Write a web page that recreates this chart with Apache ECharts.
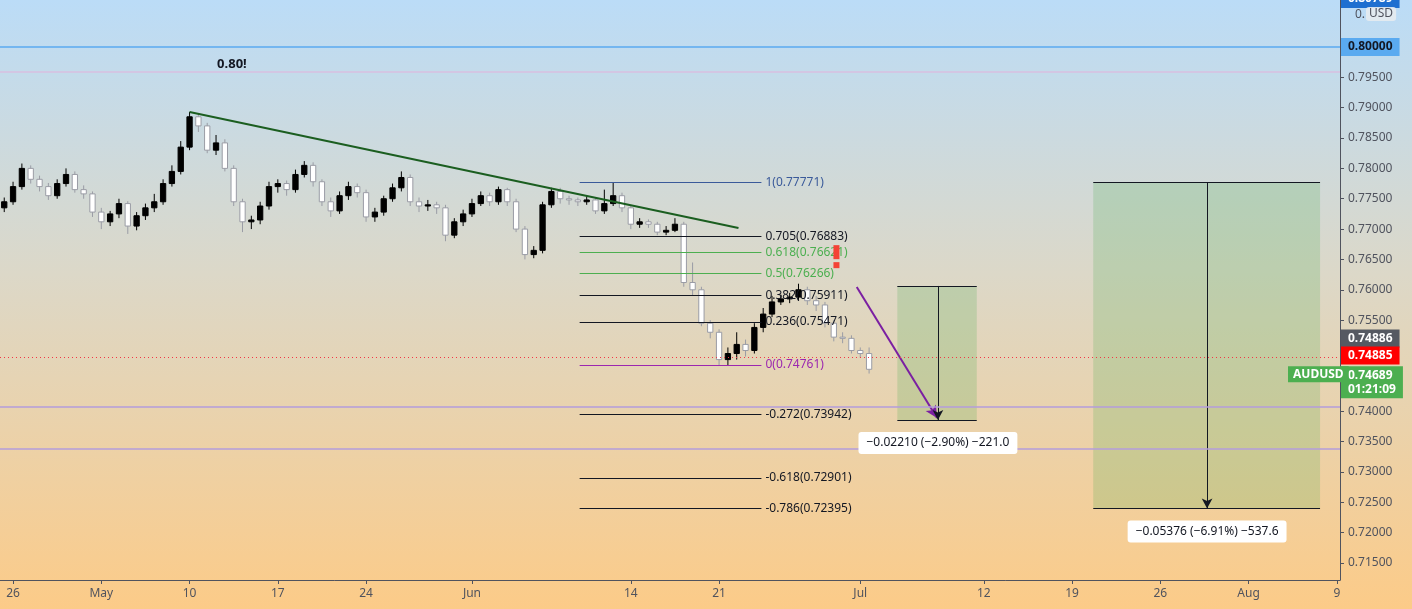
<!DOCTYPE html>
<html><head><meta charset="utf-8">
<script src="https://cdn.jsdelivr.net/npm/echarts@6/dist/echarts.min.js"></script>
<style>html,body{margin:0;padding:0}#c{width:1412px;height:609px}</style>
</head><body><div id="c"></div>
<script>
// trading-day index of first candle, half-day steps
const startDay = -0.5, step = 0.5;
const firstOpen = 0.7735;
const closes = [0.7745,0.7770,0.7800,0.7782,0.7770,0.7755,0.7775,0.7790,0.7765,0.7758,0.7728,0.7712,0.7725,0.7742,0.7705,0.7722,0.7735,0.7745,0.7775,0.7795,0.7835,0.7885,0.7870,0.7830,0.7842,0.7800,0.7745,0.7712,0.7715,0.7738,0.7770,0.7775,0.7765,0.7790,0.7805,0.7778,0.7745,0.7730,0.7755,0.7770,0.7760,0.7720,0.7728,0.7750,0.7768,0.7785,0.7745,0.7738,0.7740,0.7735,0.7690,0.7712,0.7725,0.7742,0.7755,0.7745,0.7765,0.7745,0.7700,0.7658,0.7665,0.7740,0.7762,0.7750,0.7748,0.7745,0.7748,0.7730,0.7742,0.7755,0.7735,0.7708,0.7712,0.7708,0.7695,0.7698,0.7708,0.7612,0.7600,0.7545,0.7530,0.7485,0.7495,0.7510,0.7500,0.7538,0.7560,0.7580,0.7585,0.7588,0.7600,0.7582,0.7575,0.7545,0.7522,0.7520,0.7500,0.7495,0.7469];
const highs = [0.7752,0.7778,0.7808,0.7805,0.7788,0.7776,0.7782,0.7800,0.7795,0.7772,0.7762,0.7735,0.7730,0.7750,0.7746,0.7728,0.7742,0.7758,0.7782,0.7805,0.7845,0.7893,0.7890,0.7875,0.7855,0.7848,0.7805,0.7750,0.7722,0.7745,0.7778,0.7782,0.7780,0.7798,0.7812,0.7810,0.7782,0.7752,0.7762,0.7778,0.7775,0.7765,0.7735,0.7755,0.7775,0.7795,0.7790,0.7752,0.7748,0.7745,0.7740,0.7718,0.7732,0.7750,0.7762,0.7760,0.7770,0.7768,0.7750,0.7705,0.7672,0.7745,0.7768,0.7768,0.7755,0.7752,0.7755,0.7752,0.7765,0.7777,0.7760,0.7740,0.7718,0.7716,0.7712,0.7705,0.7718,0.7712,0.7645,0.7605,0.7550,0.7535,0.7505,0.7530,0.7518,0.7545,0.7570,0.7590,0.7592,0.7595,0.7610,0.7605,0.7590,0.7580,0.7550,0.7530,0.7525,0.7505,0.7505];
const lows = [0.7728,0.7740,0.7765,0.7775,0.7762,0.7748,0.7750,0.7770,0.7760,0.7750,0.7720,0.7700,0.7705,0.7718,0.7692,0.7698,0.7715,0.7728,0.7740,0.7770,0.7790,0.7830,0.7860,0.7825,0.7822,0.7795,0.7738,0.7695,0.7700,0.7708,0.7732,0.7760,0.7755,0.7760,0.7785,0.7770,0.7738,0.7720,0.7725,0.7748,0.7752,0.7712,0.7712,0.7722,0.7745,0.7762,0.7738,0.7728,0.7730,0.7725,0.7680,0.7685,0.7705,0.7720,0.7738,0.7738,0.7740,0.7738,0.7695,0.7650,0.7652,0.7660,0.7735,0.7742,0.7740,0.7738,0.7740,0.7725,0.7725,0.7738,0.7728,0.7700,0.7702,0.7702,0.7690,0.7690,0.7695,0.7605,0.7590,0.7540,0.7520,0.7476,0.7476,0.7485,0.7490,0.7495,0.7530,0.7555,0.7575,0.7578,0.7582,0.7575,0.7565,0.7538,0.7515,0.7512,0.7495,0.7488,0.7462];

const xTickDays = [0,5,10,15,20,26,35,40,48,55,60,65,70,75];
const xTickLabels = ['26','May','10','17','24','Jun','14','21','Jul','12','19','26','Aug','9'];
const yTicks = [0.715,0.72,0.725,0.73,0.735,0.74,0.745,0.75,0.755,0.76,0.765,0.77,0.775,0.78,0.785,0.79,0.795,0.80];

const fibLevels = ['1','0.705','0.618','0.5','0.382','0.236','0','-0.272','-0.618','-0.786'];
const fibPrices = [0.77771,0.76883,0.76621,0.76266,0.75911,0.75471,0.74761,0.73942,0.72901,0.72395];
const fibColors = ['#3a5a9a','#131722','#4caf50','#4caf50','#131722','#131722','#9c27b0','#131722','#131722','#131722'];
const fibStart = 32.1, fibEnd = 42.4;

const trendLine = [[10.0,0.7893],[41.1,0.77018]];
const hLines = [[0.80,'#5aaaf0',1.5],[0.79588,'#d8bfe0',1.5],[0.74069,'#b39ddb',1.5],[0.73378,'#b39ddb',1.5]];
const arrowPurple = [[47.8,0.76046],[52.35,0.73888]];
const box1 = {x0:50.1,x1:54.6,top:0.76063,bottom:0.73855,arrowX:52.4,label:'\u22120.02210 (\u22122.90%) \u2212221.0'};
const box2 = {x0:61.2,x1:74.05,top:0.77771,bottom:0.72395,arrowX:67.65,label:'\u22120.05376 (\u22126.91%) \u2212537.6'};
const lastPrice = 0.74689, bidLine = 0.74885, askPrice = 0.74886;
const xMin = -0.74, xMax = 75.18;

const candles = closes.map((c,i)=>{const o=i?closes[i-1]:firstOpen;return [startDay+i*step,o,c,lows[i],highs[i]];});

const chart = echarts.init(document.getElementById('c'));
const S = (color,width,type)=>({color:color,width:width,type:type||'solid'});
const ml = [];
fibPrices.forEach((p,i)=>ml.push([{coord:[fibStart,p],lineStyle:S(fibColors[i],1),label:{show:true,position:'end',distance:4,formatter:fibLevels[i]+'('+p.toFixed(5)+')',color:fibColors[i],fontSize:12,fontFamily:'Noto Sans'}},{coord:[fibEnd,p]}]));
ml.push([{coord:trendLine[0],lineStyle:S('#1b5e20',2)},{coord:trendLine[1]}]);
ml.push([{coord:arrowPurple[0],lineStyle:S('#7b1fa2',2),symbol:'none'},{coord:arrowPurple[1],symbol:'arrow',symbolSize:[9,12]}]);
[box1,box2].forEach(b=>{
  ml.push([{coord:[b.x0,b.top],lineStyle:S('#131722',1)},{coord:[b.x1,b.top]}]);
  ml.push([{coord:[b.x0,b.bottom],lineStyle:S('#131722',1)},{coord:[b.x1,b.bottom]}]);
  ml.push([{coord:[b.arrowX,b.top],lineStyle:S('#131722',1),symbol:'none'},{coord:[b.arrowX,b.bottom],symbol:'arrow',symbolSize:[8,10]}]);
});
hLines.forEach(h=>ml.push([{coord:[xMin,h[0]],lineStyle:S(h[1],h[2])},{coord:[xMax,h[0]]}]));
ml.push([{coord:[xMin,bidLine],lineStyle:S('#f23645',1,[1,3])},{coord:[xMax,bidLine]}]);

chart.setOption({
  animation:false,
  backgroundColor:new echarts.graphic.LinearGradient(0,0,0,1,[{offset:0,color:'#bbdcf7'},{offset:0.45,color:'#dcd8c8'},{offset:1,color:'#fccb88'}]),
  grid:{left:0,right:72,top:0,bottom:29},
  xAxis:{type:'value',min:xMin,max:xMax,
    axisLine:{show:true,onZero:false,lineStyle:{color:'#50535e'}},
    axisTick:{show:true,customValues:xTickDays,length:4,lineStyle:{color:'#50535e'}},
    axisLabel:{customValues:xTickDays,formatter:v=>xTickLabels[xTickDays.indexOf(v)],color:'#50535e',fontSize:12,fontFamily:'Noto Sans',margin:8},
    splitLine:{show:false}},
  yAxis:{type:'value',position:'right',min:0.71219,max:0.80774,
    axisLine:{show:true,onZero:false,lineStyle:{color:'#50535e'}},
    axisTick:{show:true,customValues:yTicks,length:4,lineStyle:{color:'#50535e'}},
    axisLabel:{customValues:yTicks,formatter:v=>v.toFixed(5),color:'#50535e',fontSize:12,fontFamily:'Noto Sans',margin:8},
    splitLine:{show:false}},
  series:[
    {type:'custom',data:candles,clip:true,z:3,
     renderItem:(params,api)=>{
       const x=api.value(0),o=api.value(1),c=api.value(2),l=api.value(3),h=api.value(4);
       const po=api.coord([x,o]),pc=api.coord([x,c]),pl=api.coord([x,l]),ph=api.coord([x,h]);
       const w=api.size([step,0])[0]*0.6;
       const up=c>=o;
       const top=Math.min(po[1],pc[1]),ht=Math.max(Math.abs(po[1]-pc[1]),1);
       return {type:'group',children:[
         {type:'line',shape:{x1:ph[0],y1:ph[1],x2:pl[0],y2:pl[1]},style:{stroke:up?'#000':'#9a9ca5',lineWidth:1}},
         {type:'rect',shape:{x:po[0]-w/2,y:top,width:w,height:ht},style:{fill:up?'#000':'#fff',stroke:up?'#000':'#9a9ca5',lineWidth:1}}
       ]};
     }},
    {type:'line',data:[],z:2,
     markArea:{silent:true,itemStyle:{color:'rgba(76,175,80,0.22)'},data:[[{coord:[box1.x0,box1.top]},{coord:[box1.x1,box1.bottom]}],[{coord:[box2.x0,box2.top]},{coord:[box2.x1,box2.bottom]}]]},
     markLine:{silent:true,symbol:'none',animation:false,label:{show:false},lineStyle:{type:'solid'},data:ml}}
  ]
});

function px(x,y){return chart.convertToPixel({gridIndex:0},[x,y]);}
const g=[];
const F='bold 12px Noto Sans';
function badge(yc,text,bg,fg){g.push({type:'text',x:1341,y:yc-9,z:100,style:{text:text,fill:fg,backgroundColor:bg,padding:[3,7],font:F}});}
badge(px(0,0.80)[1],'0.80000','#5aaaf0','#131722');
badge(px(0,askPrice)[1]-19,'0.74886','#555962','#fff');
badge(px(0,bidLine)[1]-2,'0.74885','#ff0000','#fff');
const pl=px(0,lastPrice);
g.push({type:'text',x:1341,y:pl[1]-3,z:102,style:{text:'0.74689\n01:21:09',fill:'#fff',backgroundColor:'#4caf50',padding:[2,7],font:F,lineHeight:14}});
g.push({type:'text',x:1288,y:pl[1]-3,z:102,style:{text:'AUDUSD',fill:'#fff',backgroundColor:'#4caf50',padding:[2,5],font:F}});
g.push({type:'text',x:1341,y:-10,z:100,style:{text:'0.80789',fill:'#fff',backgroundColor:'#1e6fd0',padding:[3,7],font:F}});
g.push({type:'text',x:1355,y:9,z:99,style:{text:'0.',fill:'#50535e',font:'12px Noto Sans'}});
g.push({type:'text',x:1366,y:7,z:100,style:{text:'USD',fill:'#50535e',backgroundColor:'rgba(230,235,240,0.9)',padding:[1,3],borderRadius:3,font:'12px Noto Sans'}});
const t=px(12.4,0.7985); g.push({type:'text',x:t[0],y:t[1]+2,z:50,style:{text:'0.80!',fill:'#131722',font:'bold 13px Noto Sans',align:'center'}});
const ex=px(46.65,0.7662); g.push({type:'rect',x:ex[0]-3,y:ex[1]-7,z:50,shape:{width:6,height:14},style:{fill:'#f44336'}});
g.push({type:'rect',x:ex[0]-3,y:ex[1]+10,z:50,shape:{width:6,height:6},style:{fill:'#f44336'}});
[box1,box2].forEach(b=>{const p=px(b.arrowX,b.bottom);g.push({type:'text',x:p[0],y:p[1]+12,z:60,style:{text:b.label,fill:'#131722',backgroundColor:'#fff',padding:[5,8],borderRadius:3,font:'12px Noto Sans',align:'center'}});});
chart.setOption({graphic:g});
</script></body></html>
